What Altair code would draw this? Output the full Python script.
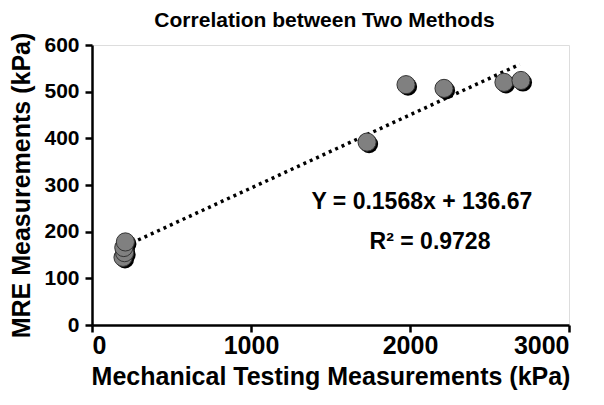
import altair as alt
import pandas as pd

mech = [195, 205, 200, 210, 1730, 1975, 2214, 2591, 2698]
mre = [145, 155, 166, 178, 392, 515, 507, 520, 524]

fit_x = [210, 2690]
slope = 0.1568
intercept = 136.67

x_ticks = [0, 1000, 2000, 3000]
y_ticks = [0, 100, 200, 300, 400, 500, 600]

FONT = "Liberation Sans"

pts = pd.DataFrame({"x": mech, "y": mre})
fit = pd.DataFrame({"x": fit_x, "y": [slope * v + intercept for v in fit_x]})
ann = pd.DataFrame({
    "x": [2075, 2126],
    "y": [264, 178],
    "t": ["Y = 0.1568x + 136.67", "R² = 0.9728"],
})

xs = alt.Scale(domain=[0, 3000], nice=False)
ys = alt.Scale(domain=[0, 600], nice=False)

xax = alt.Axis(values=x_ticks, format="d", title="Mechanical Testing Measurements (kPa)", grid=False,
               domainColor="black", domainWidth=2.5, tickColor="black", tickWidth=2.5, tickSize=7,
               labelFont=FONT, labelFontSize=25, labelFontWeight="bold", labelColor="black",
               labelPadding=1, titleFont=FONT, titleFontSize=25, titleFontWeight="bold",
               titleColor="black", titlePadding=6)
yax = alt.Axis(values=y_ticks, format="d", title="MRE Measurements (kPa)", grid=False,
               domainColor="black", domainWidth=2.5, tickColor="black", tickWidth=2.5, tickSize=7,
               labelFont=FONT, labelFontSize=21, labelFontWeight="bold", labelColor="black",
               labelPadding=6, titleFont=FONT, titleFontSize=25, titleFontWeight="bold",
               titleColor="black", titlePadding=9)

base = alt.Chart(pts)

line = alt.Chart(fit).mark_line(color="black", strokeWidth=3.5, strokeDash=[3, 4]).encode(
    x=alt.X("x:Q", scale=xs, axis=xax), y=alt.Y("y:Q", scale=ys, axis=yax))

shadow = base.mark_circle(size=330, color="black", opacity=1, xOffset=2, yOffset=2).encode(
    x=alt.X("x:Q", scale=xs), y=alt.Y("y:Q", scale=ys))
dots = base.mark_point(shape="circle", size=330, filled=True, fill="#808080", stroke="#333333",
                       strokeWidth=1, opacity=1).encode(
    x=alt.X("x:Q", scale=xs), y=alt.Y("y:Q", scale=ys))

text = alt.Chart(ann).mark_text(font=FONT, fontSize=23, fontWeight="bold", color="black").encode(
    x=alt.X("x:Q", scale=xs), y=alt.Y("y:Q", scale=ys), text="t:N")

chart = alt.layer(line, shadow, dots, text).properties(
    width=477, height=280,
    title=alt.TitleParams("Correlation between Two Methods", font=FONT, fontSize=21,
                          fontWeight="bold", color="black", anchor="middle", offset=1, dx=-6),
    autosize=alt.AutoSizeParams(type="none"),
    padding={"left": 84, "top": 37, "right": 27, "bottom": 72},
).configure_view(stroke=None).configure(background="white")

chart.save("out.html", embed_options={"renderer": "svg", "actions": False})
